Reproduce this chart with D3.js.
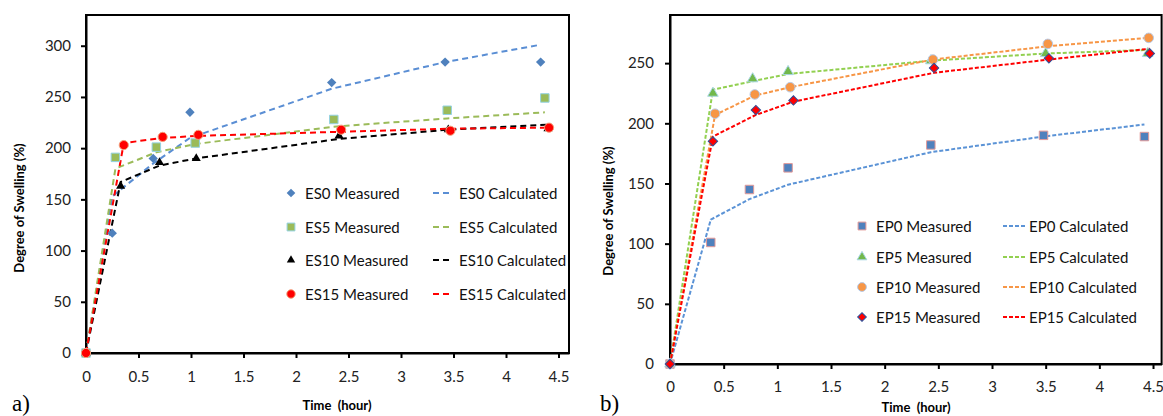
<!DOCTYPE html>
<html>
<head>
<meta charset="utf-8">
<script src="https://cdn.jsdelivr.net/npm/d3@7"></script>
<style>
  body { margin: 0; background: #fff; }
  svg { display: block; font-family: Lato, "Open Sans", sans-serif; }
</style>
</head>
<body>
<svg id="chart" width="1163" height="416"></svg>
<script>
// ---- data ----
var xTicks = [0, 0.5, 1, 1.5, 2, 2.5, 3, 3.5, 4, 4.5]
var yTicksA = [0, 50, 100, 150, 200, 250, 300]
var yTicksB = [0, 50, 100, 150, 200, 250]

// panel a) ES samples
var es0Time = [0, 0.25, 0.64, 0.99, 2.34, 3.42, 4.33]
var es0Measured = [0, 117, 190, 235, 264, 284, 284]
var es0Calc = [0, 153, 185, 210, 258, 284, 301]

var es5Time = [0, 0.28, 0.67, 1.04, 2.36, 3.44, 4.37]
var es5Measured = [0, 191, 201, 205, 228, 237, 249]
var es5Calc = [0, 180, 196, 204, 221, 229, 235]

var es10Time = [0, 0.33, 0.70, 1.05, 2.41, 3.45, 4.40]
var es10Measured = [0, 163, 186, 190, 212, 218, 219]
var es10Calc = [0, 167, 183, 190, 209, 218, 223]

var es15Time = [0, 0.36, 0.73, 1.07, 2.43, 3.47, 4.41]
var es15Measured = [0, 203, 211, 213, 218, 217, 220]
var es15Calc = [0, 205, 210, 212, 216, 219, 220]

// panel b) EP samples
var ep0Time = [0, 0.38, 0.74, 1.10, 2.43, 3.48, 4.42]
var ep0Measured = [0, 101, 145, 163, 182, 190, 189]
var ep0Calc = [0, 120, 137, 149, 176, 189, 199]

var ep5Time = [0, 0.40, 0.77, 1.10, 2.43, 3.50, 4.45]
var ep5Measured = [0, 225, 237, 243, 252, 258, 258]
var ep5Calc = [0, 228, 235, 241, 252, 258, 261]

var ep10Time = [0, 0.42, 0.79, 1.12, 2.45, 3.52, 4.46]
var ep10Measured = [0, 208, 224, 230, 253, 266, 271]
var ep10Calc = [0, 207, 223, 230, 253, 264, 271]

var ep15Time = [0, 0.40, 0.80, 1.15, 2.46, 3.53, 4.47]
var ep15Measured = [0, 185, 211, 219, 246, 254, 258]
var ep15Calc = [0, 189, 207, 218, 242, 253, 262]

var svg = d3.select('#chart')

function pts(t, v) {
    return t.map((d, i) => ({ x: d, y: v[i] }))
}

var panels = [
    {
        tag: 'a)', tagX: 12, tagY: 411,
        left: 86, right: 569, top: 15, bottom: 353,
        xMax: 4.6, yMax: 330, yTicks: yTicksA,
        xLabelDy: 29, yLabelDx: -15,
        xTitleX: 337, xTitleY: 410, yTitleX: 24, yTitleY: 208,
        dash: '6,4', legendDash: [433, 450],
        legend: { mx: 291, tx: 305, lx: 459, rows: [193, 227, 260, 294] },
        series: [
            { name: 'ES0', t: es0Time, m: es0Measured, c: es0Calc, shape: 'diamond', size: 44, fill: '#4f81bd', stroke: 'none', line: '#5a8ed4' },
            { name: 'ES5', t: es5Time, m: es5Measured, c: es5Calc, shape: 'square', size: 72, fill: '#9bbb59', stroke: '#93d2e2', line: '#9bbb59' },
            { name: 'ES10', t: es10Time, m: es10Measured, c: es10Calc, shape: 'triangle', size: 36, fill: '#000', stroke: 'none', line: '#000' },
            { name: 'ES15', t: es15Time, m: es15Measured, c: es15Calc, shape: 'circle', size: 66, fill: '#ff0000', stroke: '#f3a07a', line: '#ff0000' }
        ]
    },
    {
        tag: 'b)', tagX: 600, tagY: 411,
        left: 670, right: 1161.6, top: 15, bottom: 364,
        xMax: 4.58, yMax: 290, yTicks: yTicksB,
        xLabelDy: 28, yLabelDx: -16,
        xTitleX: 916, xTitleY: 412, yTitleX: 613, yTitleY: 211,
        dash: '4,2', legendDash: [1003, 1027],
        legend: { mx: 862, tx: 876, lx: 1029, rows: [226, 257, 287, 317] },
        series: [
            { name: 'EP0', t: ep0Time, m: ep0Measured, c: ep0Calc, shape: 'square', size: 72, fill: '#4f81bd', stroke: '#e39a98', line: '#5b93d6' },
            { name: 'EP5', t: ep5Time, m: ep5Measured, c: ep5Calc, shape: 'triangle', size: 48, fill: '#72b84c', stroke: '#a8d6e4', line: '#92d050' },
            { name: 'EP10', t: ep10Time, m: ep10Measured, c: ep10Calc, shape: 'circle', size: 72, fill: '#f79646', stroke: '#b7c9e6', line: '#f79646' },
            { name: 'EP15', t: ep15Time, m: ep15Measured, c: ep15Calc, shape: 'diamond', size: 44, fill: '#ff0000', stroke: '#2d4f9a', line: '#ff0000' }
        ]
    }
]

function symbolPath(shape, size) {
    var type = { square: d3.symbolSquare, diamond: d3.symbolSquare, triangle: d3.symbolTriangle, circle: d3.symbolCircle }[shape]
    return d3.symbol().type(type).size(size)()
}

function drawMarker(g, s, x, y) {
    g.append('path')
        .attr('d', symbolPath(s.shape, s.size))
        .attr('transform', 'translate(' + x + ',' + y + ')' + (s.shape == 'diamond' ? ' rotate(45)' : ''))
        .attr('fill', s.fill)
        .attr('stroke', s.stroke)
        .attr('stroke-width', 1)
}

panels.forEach(p => {
    var x = d3.scaleLinear().domain([0, p.xMax]).range([p.left, p.right])
    var y = d3.scaleLinear().domain([0, p.yMax]).range([p.bottom, p.top])
    var g = svg.append('g')

    // frame
    g.append('rect')
        .attr('x', p.left).attr('y', p.top)
        .attr('width', p.right - p.left).attr('height', p.bottom - p.top)
        .attr('fill', 'none').attr('stroke', '#000').attr('stroke-width', 2)

    var xAxis = g.append('g')
        .attr('transform', 'translate(0,' + p.bottom + ')')
        .call(d3.axisBottom(x).tickValues(xTicks).tickSize(5).tickSizeOuter(0).tickFormat(d3.format('')))
    xAxis.selectAll('text').attr('y', p.xLabelDy).attr('dy', 0)

    var yAxis = g.append('g')
        .attr('transform', 'translate(' + p.left + ',0)')
        .call(d3.axisLeft(y).tickValues(p.yTicks).tickSize(5).tickSizeOuter(0))
    yAxis.selectAll('text').attr('x', p.yLabelDx)

    g.selectAll('.domain').attr('stroke', '#000').attr('stroke-width', 2)
    g.selectAll('.tick line').attr('stroke', '#000').attr('stroke-width', 2)
    g.selectAll('.tick text')
        .attr('font-family', 'Lato, sans-serif')
        .attr('font-size', 15)
        .attr('fill', '#222')

    var line = d3.line().x(d => x(d.x)).y(d => y(d.y))

    // calculated curves
    p.series.forEach(s => {
        g.append('path')
            .datum(pts(s.t, s.c))
            .attr('d', line)
            .attr('fill', 'none')
            .attr('stroke', s.line)
            .attr('stroke-width', 2)
            .attr('stroke-dasharray', p.dash)
    })

    // measured points
    p.series.forEach(s => {
        pts(s.t, s.m).forEach(d => drawMarker(g, s, x(d.x), y(d.y)))
    })

    // legend
    p.series.forEach((s, i) => {
        var ry = p.legend.rows[i]
        drawMarker(g, Object.assign({}, s, { size: s.size * 0.85 }), p.legend.mx, ry)
        g.append('text')
            .attr('x', p.legend.tx).attr('y', ry + 5.5)
            .attr('font-size', 15).attr('fill', '#111')
            .text(s.name + ' Measured')
        g.append('line')
            .attr('x1', p.legendDash[0]).attr('x2', p.legendDash[1])
            .attr('y1', ry).attr('y2', ry)
            .attr('stroke', s.line).attr('stroke-width', 2)
            .attr('stroke-dasharray', p.dash)
        g.append('text')
            .attr('x', p.legend.lx).attr('y', ry + 5.5)
            .attr('font-size', 15).attr('fill', '#111')
            .text(s.name + ' Calculated')
    })

    // titles
    g.append('text')
        .attr('x', p.xTitleX).attr('y', p.xTitleY)
        .attr('text-anchor', 'middle')
        .attr('font-size', 13).attr('font-weight', 'bold')
        .style('white-space', 'pre')
        .text('Time  (hour)')
    g.append('text')
        .attr('transform', 'translate(' + p.yTitleX + ',' + p.yTitleY + ') rotate(-90)')
        .attr('text-anchor', 'middle')
        .attr('font-size', 13).attr('font-weight', 'bold')
        .text('Degree of Swelling (%)')

    g.append('text')
        .attr('x', p.tagX).attr('y', p.tagY)
        .attr('font-family', '"Liberation Serif", "DejaVu Serif", serif')
        .attr('font-size', 23)
        .text(p.tag)
})
</script>
</body>
</html>
